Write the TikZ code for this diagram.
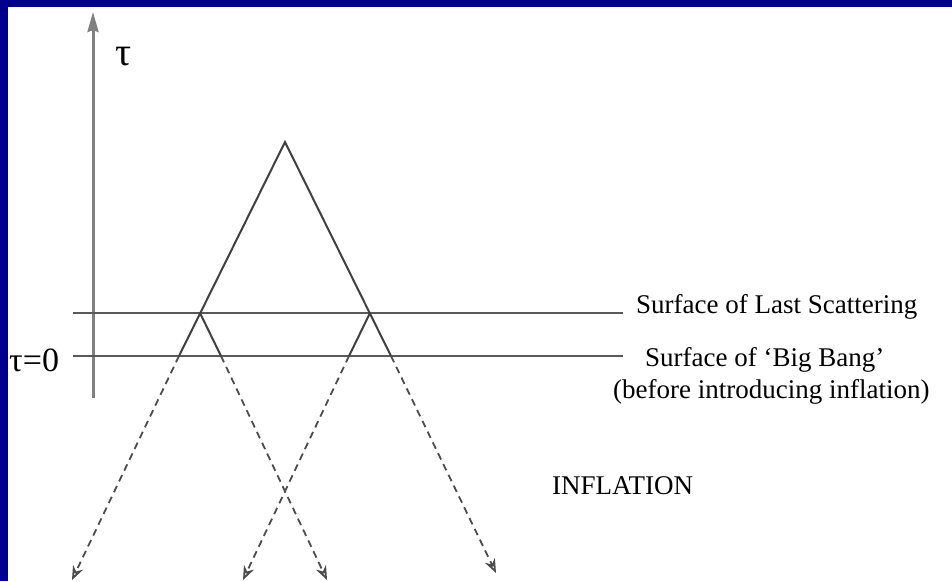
\documentclass[tikz,border=0pt]{standalone}
\usepackage{fontspec}
\setmainfont{Liberation Serif}
\usetikzlibrary{arrows.meta}
\definecolor{frame}{RGB}{0,0,139}

\begin{document}
\begin{tikzpicture}[x=1pt, y=-1pt,
    lbl/.style={anchor=base west, inner sep=0pt, font=\fontsize{27}{32}\selectfont},
    axis/.style={line width=3pt, black!50, -{Stealth[length=20pt, width=11pt, inset=2pt]}},
    surf/.style={line width=2pt, black!65},
    cone/.style={line width=2pt, black!75},
    past/.style={line width=1.8pt, black!70, dash pattern=on 7pt off 5pt, -{Stealth[open, length=14pt, width=11pt]}}
]
    \useasboundingbox (0,0) rectangle (952,581);
    \fill[frame] (0,0) rectangle (952,581);
    \fill[white] (8,7) rectangle (952,581);
    % time axis
    \coordinate (ax0) at (93,398);
    \coordinate (ax1) at (93,12);
    \draw[axis] (ax0) -- (ax1);
    \node[lbl, font=\fontsize{40}{44}\selectfont] (tau) at (115,65) {τ};
    \node[lbl, font=\fontsize{34}{38}\selectfont] (tau0) at (9,371) {τ=0};
    % surfaces
    \coordinate (lsL) at (73,313);
    \coordinate (lsR) at (623,313);
    \coordinate (bbL) at (73,356);
    \coordinate (bbR) at (623,356);
    \draw[surf] (lsL) -- (lsR);
    \draw[surf] (bbL) -- (bbR);
    % light cones
    \coordinate (A)  at (285,142);
    \coordinate (P)  at (200,313);
    \coordinate (Q)  at (370,313);
    \coordinate (bl) at (179,356);
    \coordinate (br) at (391,356);
    \coordinate (pr) at (221,356);
    \coordinate (ql) at (349,356);
    \draw[cone] (bl) -- (A) -- (br);
    \draw[cone] (P) -- (pr);
    \draw[cone] (Q) -- (ql);
    % extension before the big bang
    \coordinate (e1) at (72,580);
    \coordinate (e2) at (327,580);
    \coordinate (e3) at (243,580);
    \coordinate (e4) at (496,573);
    \draw[past] (bl) -- (e1);
    \draw[past] (pr) -- (e2);
    \draw[past] (ql) -- (e3);
    \draw[past] (br) -- (e4);
    % labels
    \node[lbl] (lss)    at (636,313) {Surface of Last Scattering};
    \node[lbl] (bb)     at (645,366) {Surface of `Big Bang'};
    \node[lbl] (bbnote) at (613,398) {(before introducing inflation)};
    \node[lbl] (infl)   at (552,494) {INFLATION};
\end{tikzpicture}
\end{document}
